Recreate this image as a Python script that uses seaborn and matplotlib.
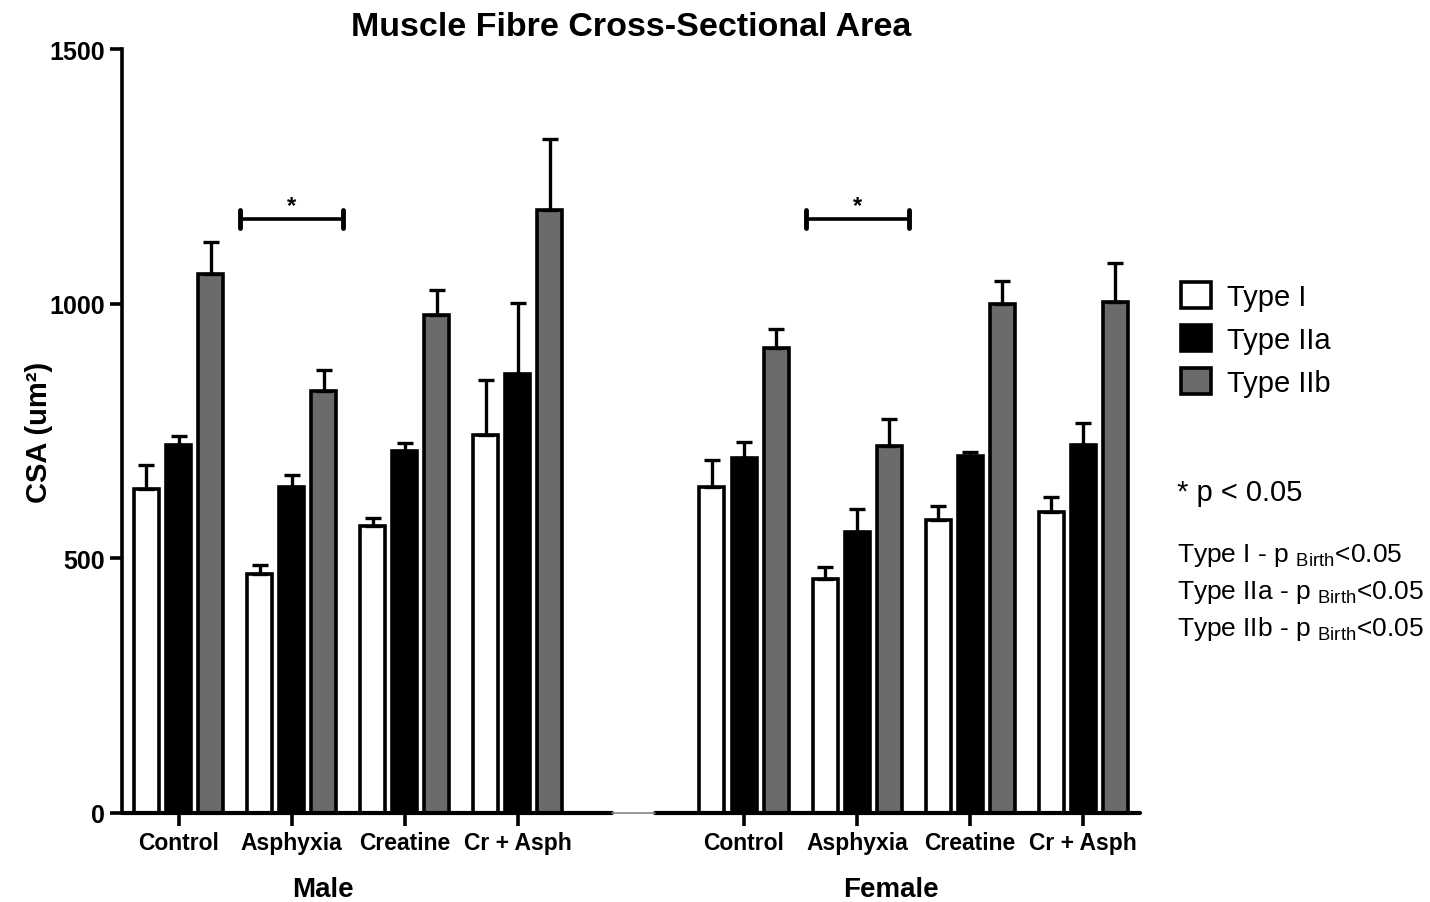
import numpy as np
import pandas as pd
import matplotlib
matplotlib.use("Agg")
import matplotlib.pyplot as plt
import seaborn as sns
from matplotlib.patches import Patch

# values (mean and SEM, um^2)
groups = ["Control", "Asphyxia", "Creatine", "Cr + Asph"]
sexes = ["Male", "Female"]
fibres = ["Type I", "Type IIa", "Type IIb"]

male_type_i = [636, 469, 564, 742]
male_type_i_sem = [47, 18, 15, 108]
male_type_iia = [722, 640, 711, 862]
male_type_iia_sem = [18, 24, 16, 139]
male_type_iib = [1058, 829, 978, 1184]
male_type_iib_sem = [63, 41, 49, 139]

female_type_i = [640, 459, 575, 591]
female_type_i_sem = [53, 24, 28, 29]
female_type_iia = [697, 552, 701, 722]
female_type_iia_sem = [31, 45, 8, 44]
female_type_iib = [913, 721, 999, 1003]
female_type_iib_sem = [37, 53, 46, 77]

sig_groups = ["Asphyxia"]
sig_height = 1166
notes = ["Type I", "Type IIa", "Type IIb"]

sns.set_style("ticks")
plt.rcParams["font.family"] = ["Liberation Sans", "DejaVu Sans"]
plt.rcParams["mathtext.fontset"] = "custom"
plt.rcParams["mathtext.rm"] = "Liberation Sans"
for k in ["text.color", "axes.labelcolor", "xtick.color", "ytick.color", "axes.edgecolor"]:
    plt.rcParams[k] = "black"

rows = []
means = {"Male": [male_type_i, male_type_iia, male_type_iib],
         "Female": [female_type_i, female_type_iia, female_type_iib]}
sems = {"Male": [male_type_i_sem, male_type_iia_sem, male_type_iib_sem],
        "Female": [female_type_i_sem, female_type_iia_sem, female_type_iib_sem]}
for sex in sexes:
    for fi, fibre in enumerate(fibres):
        for gi, g in enumerate(groups):
            rows.append({"slot": f"{sex} {g}", "fibre": fibre,
                         "csa": means[sex][fi][gi], "sem": sems[sex][fi][gi]})
df = pd.DataFrame(rows)

order = [f"Male {g}" for g in groups] + [" "] + [f"Female {g}" for g in groups]
palette = ["white", "black", "#6b6b6b"]

fig = plt.figure(figsize=(14.3, 9.03), dpi=100)
ax = fig.add_axes([0.0853, 0.0986, 0.7118, 0.846])

sns.barplot(data=df, x="slot", y="csa", hue="fibre", order=order,
            hue_order=fibres, palette=palette, width=0.85, gap=0.22,
            edgecolor="black", linewidth=2.6, errorbar=None, legend=False, ax=ax)

# upper error bars only
lookup = df.set_index(["slot", "fibre"])["sem"]
for container, fibre in zip(ax.containers, fibres):
    for bar in container:
        h = bar.get_height()
        if np.isnan(h):
            continue
        xc = bar.get_x() + bar.get_width() / 2
        slot = order[int(round(xc))]
        err = lookup[(slot, fibre)]
        ax.errorbar(xc, h, yerr=[[0], [err]], fmt="none", ecolor="black",
                    elinewidth=2.4, capsize=5.5, capthick=2.4, zorder=1)

ax.set_ylim(0, 1500)
ax.set_xlim(-0.5, len(order) - 0.5)
ax.set_yticks([0, 500, 1000, 1500])
ax.set_yticklabels(["0", "500", "1000", "1500"], fontsize=18, fontweight="bold")
tick_pos = [i for i, s in enumerate(order) if s.strip()]
ax.set_xticks(tick_pos)
ax.set_xticklabels(groups * 2, fontsize=16.5, fontweight="bold")
ax.tick_params(axis="both", width=2.6, length=9, direction="out")
ax.tick_params(axis="x", pad=4)
ax.set_xlabel("")
ax.set_ylabel("CSA (um²)", fontsize=21, fontweight="bold")
ax.yaxis.set_label_coords(-0.068, 0.5)

sns.despine(ax=ax)
ax.spines["left"].set_linewidth(2.6)
ax.spines["bottom"].set_visible(False)
gap_i = order.index(" ")
ax.plot([-0.5, gap_i - 0.17], [0, 0], color="black", lw=3, clip_on=False, zorder=5)
ax.plot([gap_i + 0.21, len(order) - 0.5], [0, 0], color="black", lw=3, clip_on=False, zorder=5)
ax.plot([gap_i - 0.17, gap_i + 0.21], [0, 0], color="#888888", lw=1.2, clip_on=False, zorder=5)

# significance brackets
for sex in sexes:
    for g in sig_groups:
        xi = order.index(f"{sex} {g}")
        x0, x1 = xi - 0.455, xi + 0.455
        ax.plot([x0, x1], [sig_height, sig_height], color="black", lw=2.6)
        ax.plot([x0, x0], [sig_height - 17, sig_height + 17], color="black", lw=3.5)
        ax.plot([x1, x1], [sig_height - 17, sig_height + 17], color="black", lw=3.5)
        ax.text(xi, sig_height + 5, "*", ha="center", va="bottom", fontsize=17, fontweight="bold")

trans = ax.get_xaxis_transform()
for sex, x in zip(sexes, [1.28, 6.3]):
    ax.text(x, -0.1, sex, transform=trans, ha="center", va="center",
            fontsize=20, fontweight="bold")

fig.text(0.441, 0.969, "Muscle Fibre Cross-Sectional Area", ha="center", va="center",
         fontsize=24.5, fontweight="bold")

handles = [Patch(facecolor=c, edgecolor="black", linewidth=2.6) for c in palette]
fig.legend(handles, fibres, loc="upper left", bbox_to_anchor=(0.818, 0.70),
           frameon=False, fontsize=21, handlelength=1.0, handleheight=1.0,
           handletextpad=0.55, labelspacing=0.48, borderaxespad=0)

fig.text(0.823, 0.454, "* p < 0.05", ha="left", va="center", fontsize=21)
for i, n in enumerate(notes):
    fig.text(0.823, 0.385 - i * 0.041, n + r" - p $_{\rm Birth}$<0.05",
             ha="left", va="center", fontsize=19)

fig.savefig("out.png", dpi=100)
